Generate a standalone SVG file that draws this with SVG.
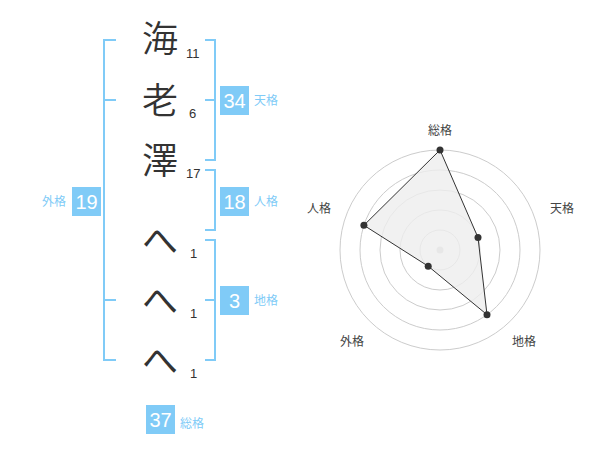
<svg xmlns="http://www.w3.org/2000/svg" width="600" height="470" viewBox="0 0 600 470">
<style>
.ch{font-family:"Noto Sans CJK JP","Noto Sans",sans-serif;font-size:36px;font-weight:350;fill:#333;text-anchor:middle}
.kn{font-weight:400}
.num{font-family:"Liberation Sans",Arial,sans-serif;font-size:13px;fill:#333}
.br{fill:none;stroke:#80cbf7;stroke-width:2}
.box{fill:#80cbf7}
.bn{font-family:"Liberation Sans",Arial,sans-serif;font-size:20px;fill:#fff;text-anchor:middle}
.lb{font-family:"Noto Sans CJK JP",sans-serif;font-size:12px;fill:#80cbf7}
.ring{fill:none;stroke:#ccc;stroke-width:1}
.rl{font-family:"Noto Sans CJK JP",sans-serif;font-size:12px;fill:#444;text-anchor:middle}
</style>
<rect width="600" height="470" fill="#fff"/>
<g id="chars">
<text class="ch" x="160" y="52">海</text>
<text class="num" x="186" y="58">11</text>
<text class="ch" x="160" y="114">老</text>
<text class="num" x="189" y="118">6</text>
<text class="ch" x="160" y="174">澤</text>
<text class="num" x="186" y="178">17</text>
<text class="ch kn" x="160" y="254">へ</text>
<text class="num" x="190" y="258">1</text>
<text class="ch kn" x="160" y="314">へ</text>
<text class="num" x="190" y="318">1</text>
<text class="ch kn" x="160" y="374">へ</text>
<text class="num" x="190" y="378">1</text>
</g>
<g id="connectors">
<path class="br" d="M116 40H104V360H116M104 100H116M104 300H116"/>
<path class="br" d="M205 40H215V160H205M205 100H215"/>
<path class="br" d="M205 170H215V230H205"/>
<path class="br" d="M205 240H215V360H205M205 300H215"/>
</g>
<g id="gaikaku">
<rect class="box" x="72" y="187" width="29" height="29"/>
<text class="bn" x="86.5" y="209">19</text>
<text class="lb" x="66" y="206" text-anchor="end">外格</text>
</g>
<g id="tenkaku">
<rect class="box" x="220" y="86" width="29" height="29"/>
<text class="bn" x="234.5" y="108">34</text>
<text class="lb" x="254" y="105">天格</text>
</g>
<g id="jinkaku">
<rect class="box" x="220" y="187" width="29" height="29"/>
<text class="bn" x="234.5" y="209">18</text>
<text class="lb" x="254" y="206">人格</text>
</g>
<g id="chikaku">
<rect class="box" x="220" y="286" width="29" height="29"/>
<text class="bn" x="234.5" y="308">3</text>
<text class="lb" x="254" y="305">地格</text>
</g>
<g id="soukaku">
<rect class="box" x="146" y="405" width="29" height="29"/>
<text class="bn" x="160.5" y="427">37</text>
<text class="lb" x="180" y="428">総格</text>
</g>
<g id="radar">
<circle class="ring" cx="440" cy="250" r="20"/>
<circle class="ring" cx="440" cy="250" r="40"/>
<circle class="ring" cx="440" cy="250" r="60"/>
<circle class="ring" cx="440" cy="250" r="80"/>
<circle class="ring" cx="440" cy="250" r="100"/>
<circle cx="440" cy="250" r="3.5" fill="#ccc"/>
<polygon points="440,150 478,237.6 487,314.7 428.2,266.2 363.9,225.3" fill="#eee" fill-opacity="0.8" stroke="#333" stroke-width="1"/>
<g fill="#333">
<circle cx="440" cy="150" r="3.5"/>
<circle cx="478" cy="237.6" r="3.5"/>
<circle cx="487" cy="314.7" r="3.5"/>
<circle cx="428.2" cy="266.2" r="3.5"/>
<circle cx="363.9" cy="225.3" r="3.5"/>
</g>
<text class="rl" x="440" y="135">総格</text>
<text class="rl" x="562" y="213">天格</text>
<text class="rl" x="319" y="213">人格</text>
<text class="rl" x="352" y="346">外格</text>
<text class="rl" x="524" y="346">地格</text>
</g>
</svg>
